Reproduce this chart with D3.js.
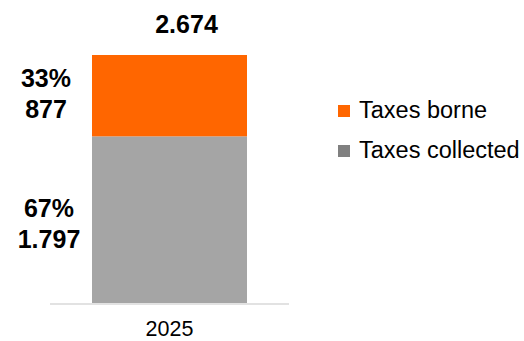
<!DOCTYPE html>
<html>
<head>
<meta charset="utf-8">
<script src="https://cdn.jsdelivr.net/npm/d3@7"></script>
<style>
  html, body { margin: 0; padding: 0; background: #fff; }
  svg { display: block; font-family: "Liberation Sans", Arial, sans-serif; }
</style>
</head>
<body>
<svg id="chart" width="524" height="341"></svg>
<script>
// Tax contribution for the year, split into collected and borne
const categories = ["2025"];
const seriesNames = ["Taxes collected", "Taxes borne"];
const taxesCollected = [1797];
const taxesBorne = [877];
const shareLabels = [["67%"], ["33%"]];
const legendOrder = ["Taxes borne", "Taxes collected"];

const colors = { "Taxes collected": "#a5a5a5", "Taxes borne": "#ff6600" };
const legendColors = { "Taxes collected": "#808080", "Taxes borne": "#ff6600" };

const fmt = v => d3.format(",")(v).replace(/,/g, ".");

const rows = categories.map((c, i) => ({
  category: c,
  "Taxes collected": taxesCollected[i],
  "Taxes borne": taxesBorne[i]
}));
const totals = rows.map(r => r["Taxes collected"] + r["Taxes borne"]);

const svg = d3.select("#chart");

const axisLeft = 50, axisRight = 289;
const x = d3.scaleBand()
  .domain(categories)
  .range([axisLeft, axisRight])
  .paddingInner(0)
  .paddingOuter(0.271);

const y = d3.scaleLinear()
  .domain([0, d3.max(totals)])
  .range([303, 55]);

const stack = d3.stack().keys(seriesNames);
const stacked = stack(rows);

// stacked bar segments
const layers = svg.append("g").selectAll("g")
  .data(stacked)
  .join("g")
  .attr("fill", d => colors[d.key]);

layers.selectAll("rect")
  .data(d => d)
  .join("rect")
  .attr("x", d => x(d.data.category))
  .attr("width", x.bandwidth())
  .attr("y", d => y(d[1]))
  .attr("height", d => y(d[0]) - y(d[1]));

// category axis line
svg.append("line")
  .attr("x1", axisLeft).attr("x2", axisRight)
  .attr("y1", y(0) + 1).attr("y2", y(0) + 1)
  .attr("stroke", "#d9d9d9")
  .attr("stroke-width", 1.5);

// category tick label
svg.append("g")
  .selectAll("text")
  .data(categories)
  .join("text")
  .attr("x", d => x(d) + x.bandwidth() / 2)
  .attr("y", 336)
  .attr("text-anchor", "middle")
  .attr("font-size", 21.5)
  .attr("fill", "#000")
  .text(d => d);

// segment labels: share and value, left of the bar
stacked.forEach((layer, si) => {
  layer.forEach((d, ci) => {
    const mid = (y(d[0]) + y(d[1])) / 2;
    const shift = si === 0 ? -3 : -9;
    const cx = x(d.data.category) - (si === 0 ? 43 : 46);
    const t = svg.append("text")
      .attr("text-anchor", "middle")
      .attr("font-size", 25)
      .attr("font-weight", "bold")
      .attr("fill", "#000");
    t.append("tspan").attr("x", cx).attr("y", mid + shift).text(shareLabels[si][ci]);
    t.append("tspan").attr("x", cx).attr("y", mid + shift + 31).text(fmt(d[1] - d[0]));
  });
});

// total label above the bar
svg.append("g")
  .selectAll("text")
  .data(rows)
  .join("text")
  .attr("x", (d, i) => x(d.category) + x.bandwidth() / 2 + 17)
  .attr("y", (d, i) => y(totals[i]) - 22)
  .attr("text-anchor", "middle")
  .attr("font-size", 25)
  .attr("font-weight", "bold")
  .attr("fill", "#000")
  .text((d, i) => fmt(totals[i]));

// legend
const legend = svg.append("g")
  .selectAll("g")
  .data(legendOrder)
  .join("g")
  .attr("transform", (d, i) => `translate(338,${105 + i * 40})`);

legend.append("rect")
  .attr("width", 12).attr("height", 12)
  .attr("fill", d => legendColors[d]);

legend.append("text")
  .attr("x", 21)
  .attr("y", 13)
  .attr("font-size", 23.5)
  .attr("fill", "#000")
  .text(d => d);
</script>
</body>
</html>
